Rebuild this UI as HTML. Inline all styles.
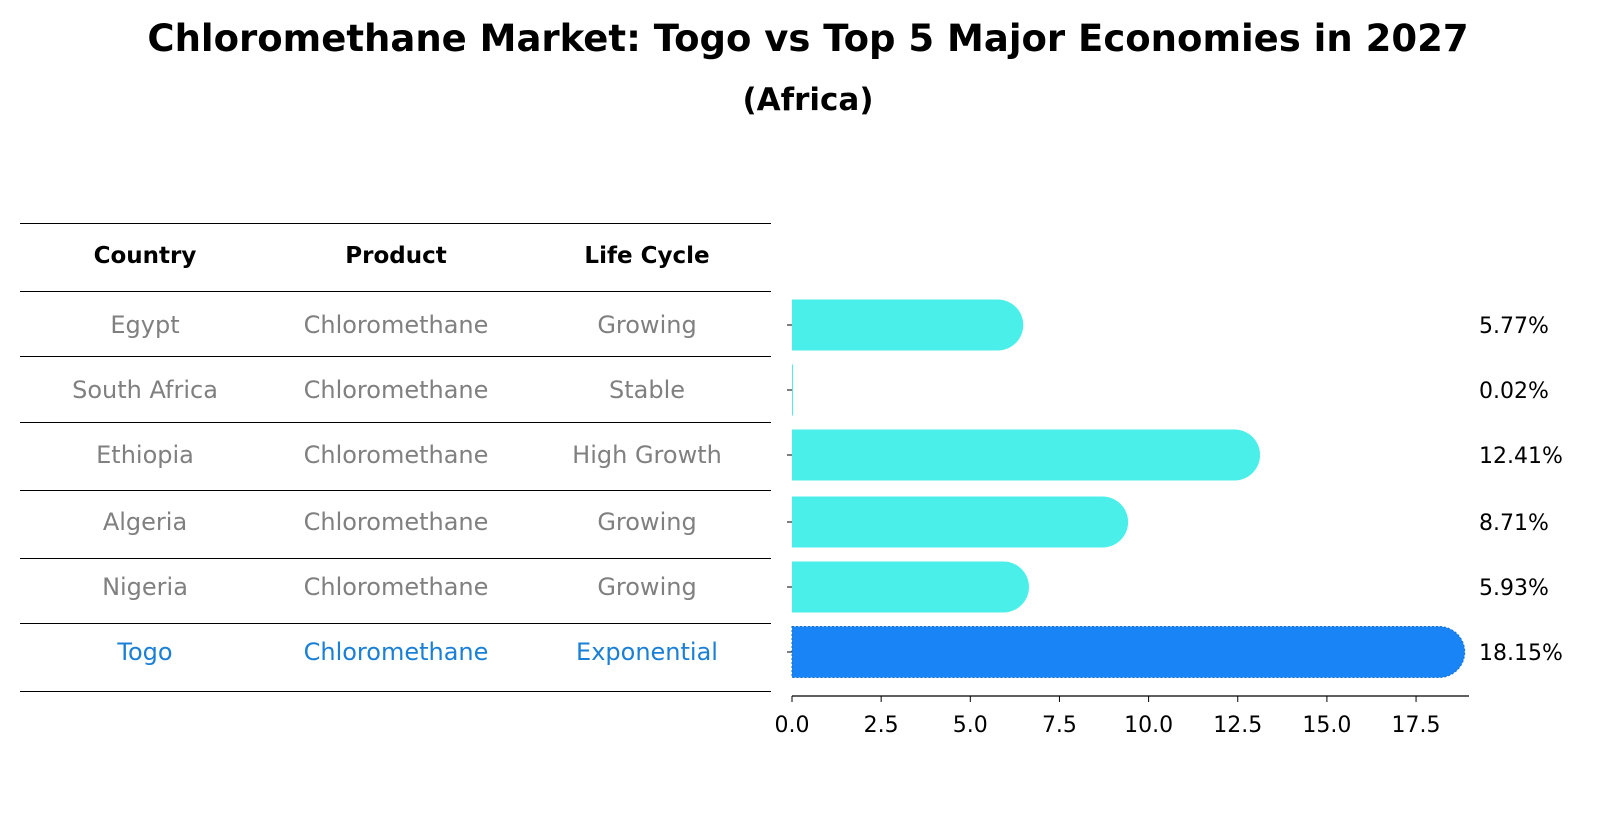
<!DOCTYPE html>
<html><head><meta charset="utf-8"><style>
body{margin:0;background:#fff;font-family:"DejaVu Sans","Liberation Sans",sans-serif;}
</style></head><body>
<svg width="1604" height="823" xmlns="http://www.w3.org/2000/svg" font-family="DejaVu Sans, Liberation Sans, sans-serif">
<text x="808" y="51" text-anchor="middle" font-size="37" font-weight="bold">Chloromethane Market: Togo vs Top 5 Major Economies in 2027</text>
<text x="808" y="110" text-anchor="middle" font-size="31" font-weight="bold">(Africa)</text>
<g id="table"></g>
<g id="bars"></g>
</svg>
<script>
const countries=["Egypt","South Africa","Ethiopia","Algeria","Nigeria","Togo"];
const products=["Chloromethane","Chloromethane","Chloromethane","Chloromethane","Chloromethane","Chloromethane"];
const lifeCycles=["Growing","Stable","High Growth","Growing","Growing","Exponential"];
const values=[5.77,0.02,12.41,8.71,5.93,18.15];
const ticks=[0,2.5,5,7.5,10,12.5,15,17.5];
const NS="http://www.w3.org/2000/svg";
function mk(t,a,p,txt){const e=document.createElementNS(NS,t);for(const k in a)e.setAttribute(k,a[k]);if(txt!=null)e.textContent=txt;p.appendChild(e);return e;}
const tbl=document.getElementById('table'),bars=document.getElementById('bars');
const lineY=[223,291,356,422,490,558,623,691];
const colX=[145,396,647];
lineY.forEach(y=>{const l=mk('line',{x1:20,x2:771,y1:y+0.5,y2:y+0.5,stroke:'#000','stroke-width':1,'shape-rendering':'crispEdges'},tbl);

});
["Country","Product","Life Cycle"].forEach((h,i)=>{const t=mk('text',{x:colX[i],y:263,'text-anchor':'middle','font-size':23,'font-weight':'bold'},tbl,h);

});
const rowC=[325,390,455,522,587,652];
countries.forEach((c,i)=>{const col=i==5?'#1a7fd6':'#808080';[c,products[i],lifeCycles[i]].forEach((v,j)=>{
const t=mk('text',{x:colX[j],y:rowC[i]+8,'text-anchor':'middle','font-size':24,fill:col},tbl,v);

});});
const x0=792,ppu=35.66,xs=v=>x0+v*ppu,bh=51,axY=696;
values.forEach((v,i)=>{const y=rowC[i]-bh/2,w=xs(v)-x0,r=bh/2,col=i==5?'#1984f5':'#4aefea';
let d;
if(v<0.5){d=`M${x0},${y}h${Math.max(w,1)}v${bh}h${-Math.max(w,1)}z`;}
else d=`M${x0},${y}H${xs(v)}A${r},${r} 0 0 1 ${xs(v)},${y+bh}H${x0}Z`;
const p=mk('path',{d:d,fill:col},bars);
if(i==5){p.setAttribute('stroke','#1a6fd0');p.setAttribute('stroke-dasharray','2,2');}


const t=mk('text',{x:1479,y:rowC[i]+8,'font-size':22},bars,v.toFixed(2)+'%');


const tk=mk('line',{x1:x0-5,x2:x0,y1:rowC[i],y2:rowC[i],stroke:'#000'},bars);

});
const ax=mk('line',{x1:x0,x2:1469,y1:axY,y2:axY,stroke:'#000','stroke-width':1.2},bars);


ticks.forEach(v=>{const l=mk('line',{x1:xs(v),x2:xs(v),y1:axY,y2:axY+6,stroke:'#000'},bars);


const t=mk('text',{x:xs(v),y:axY+36,'text-anchor':'middle','font-size':22},bars,v.toFixed(1));

});
</script>
</body></html>
